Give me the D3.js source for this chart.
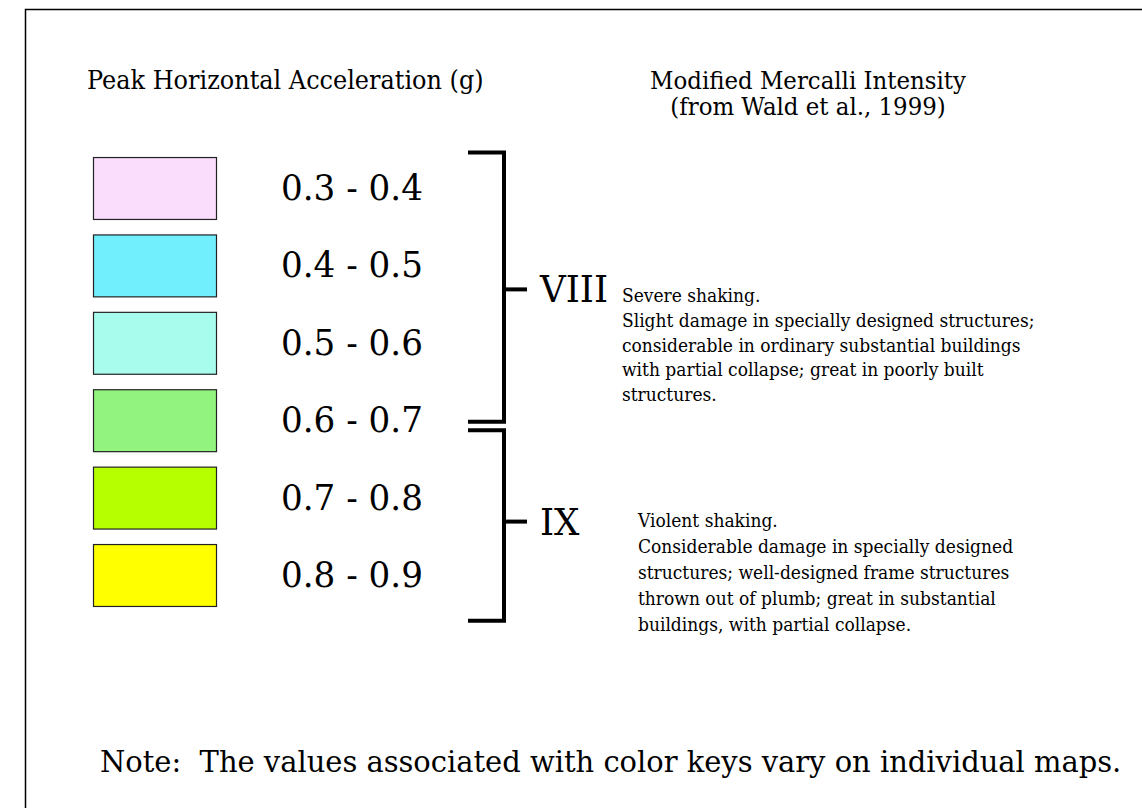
<!DOCTYPE html>
<html>
<head>
<meta charset="utf-8">
<script src="https://cdn.jsdelivr.net/npm/d3@7"></script>
<style>
  body { margin: 0; background: #fff; }
  text { font-family: "DejaVu Serif", "Liberation Serif", serif; fill: #000; }
</style>
</head>
<body>
<div id="chart"></div>
<script>
var ranges = ["0.3 - 0.4", "0.4 - 0.5", "0.5 - 0.6", "0.6 - 0.7", "0.7 - 0.8", "0.8 - 0.9"];
var colors = ["#fadcfc", "#72effc", "#a8fcee", "#92f47e", "#b6ff00", "#ffff00"];

// intensity groups, in row units (0 = centre of first row)
var intensities = ["VIII", "IX"];
var groupFrom = [-0.46, 3.13];
var groupTo = [3.02, 5.59];
var groupTick = [1.31, 4.31];

var descriptions = [
  ["Severe shaking.",
   "Slight damage in specially designed structures;",
   "considerable in ordinary substantial buildings",
   "with partial collapse; great in poorly built",
   "structures."],
  ["Violent shaking.",
   "Considerable damage in specially designed",
   "structures; well-designed frame structures",
   "thrown out of plumb; great in substantial",
   "buildings, with partial collapse."]
];

var leftTitle = "Peak Horizontal Acceleration (g)";
var rightTitle = ["Modified Mercalli Intensity", "(from Wald et al., 1999)"];
var note = "Note:\u00a0 The values associated with color keys vary on individual maps.";

var width = 1142, height = 808;
var squeezeK = 1.05; // slightly taller glyphs at the same widths

var svg = d3.select("#chart").append("svg")
  .attr("width", width)
  .attr("height", height);

// frame: only top and left edges show
svg.append("path")
  .attr("d", "M25.5," + height + "V9.5H" + width)
  .attr("fill", "none")
  .attr("stroke", "#000")
  .attr("stroke-width", 1.5);

// set font size so that the first node spans w pixels, then squeeze
function fit(sel, w, node) {
  var n = node || sel.node();
  var fs = parseFloat(sel.style("font-size"));
  var size = fs * w / n.getComputedTextLength() * squeezeK;
  sel.style("font-size", size + "px")
    .attr("transform", function() {
      var x = +d3.select(this).attr("x");
      return "translate(" + x + ",0) scale(" + (1 / squeezeK) + ",1) translate(" + (-x) + ",0)";
    });
}

var y = d3.scaleBand()
  .domain(d3.range(ranges.length))
  .range([149.3, 613.7])
  .paddingInner(0.2)
  .paddingOuter(0.1);

var rowY = d3.scaleLinear()
  .domain([0, ranges.length - 1])
  .range([y(0) + y.bandwidth() / 2, y(ranges.length - 1) + y.bandwidth() / 2]);

// titles
svg.append("text")
  .attr("x", 87).attr("y", 89)
  .style("font-size", "21px")
  .text(leftTitle)
  .call(fit, 397);

svg.append("g").selectAll("text")
  .data(rightTitle)
  .enter().append("text")
  .attr("x", 808)
  .attr("y", function(d, i) { return 89 + i * 26; })
  .attr("text-anchor", "middle")
  .style("font-size", "21px")
  .text(function(d) { return d; })
  .call(fit, 316);

// colour keys
svg.append("g").selectAll("rect")
  .data(ranges)
  .enter().append("rect")
  .attr("x", 93.5)
  .attr("y", function(d, i) { return y(i) + 0.5; })
  .attr("width", 123)
  .attr("height", y.bandwidth())
  .attr("fill", function(d, i) { return colors[i]; })
  .attr("stroke", "#222")
  .attr("stroke-width", 1.2);

svg.append("g").selectAll("text")
  .data(ranges)
  .enter().append("text")
  .attr("x", 281)
  .attr("y", function(d, i) { return rowY(i) + 12; })
  .style("font-size", "32px")
  .text(function(d) { return d; })
  .call(fit, 142);

// brackets
var bx0 = 468, bx1 = 504, tx = 527;
var br = svg.append("g").selectAll("g")
  .data(intensities)
  .enter().append("g");

br.append("path")
  .attr("d", function(d, i) {
    return "M" + bx0 + "," + rowY(groupFrom[i]) + "H" + bx1 +
      "V" + rowY(groupTo[i]) + "H" + bx0;
  })
  .attr("fill", "none")
  .attr("stroke", "#000")
  .attr("stroke-width", 4);

br.append("line")
  .attr("x1", bx1).attr("x2", tx)
  .attr("y1", function(d, i) { return rowY(groupTick[i]); })
  .attr("y2", function(d, i) { return rowY(groupTick[i]); })
  .attr("stroke", "#000")
  .attr("stroke-width", 4);

br.append("text")
  .attr("x", 540)
  .attr("y", function(d, i) { return rowY(groupTick[i]) + 13; })
  .style("font-size", "36px")
  .text(function(d) { return d; })
  .call(fit, 68);

// descriptions
var descX = [622, 638];
var descTop = [302, 527];
var descGap = [24.8, 25.9];
var dg = svg.append("g").selectAll("text")
  .data(descriptions)
  .enter().append("text")
  .attr("x", function(d, i) { return descX[i]; })
  .attr("y", function(d, i) { return descTop[i]; })
  .style("font-size", "18px");

dg.selectAll("tspan")
  .data(function(d, j) { return d.map(function(s) { return [s, j]; }); })
  .enter().append("tspan")
  .attr("x", function(d) { return descX[d[1]]; })
  .attr("dy", function(d, i) { return i ? descGap[d[1]] : 0; })
  .text(function(d) { return d[0]; });

dg.call(fit, 413, dg.nodes()[0].childNodes[1]);

// note
svg.append("text")
  .attr("x", 100).attr("y", 772)
  .style("font-size", "28px")
  .style("white-space", "pre")
  .text(note)
  .call(fit, 1022);
</script>
</body>
</html>
